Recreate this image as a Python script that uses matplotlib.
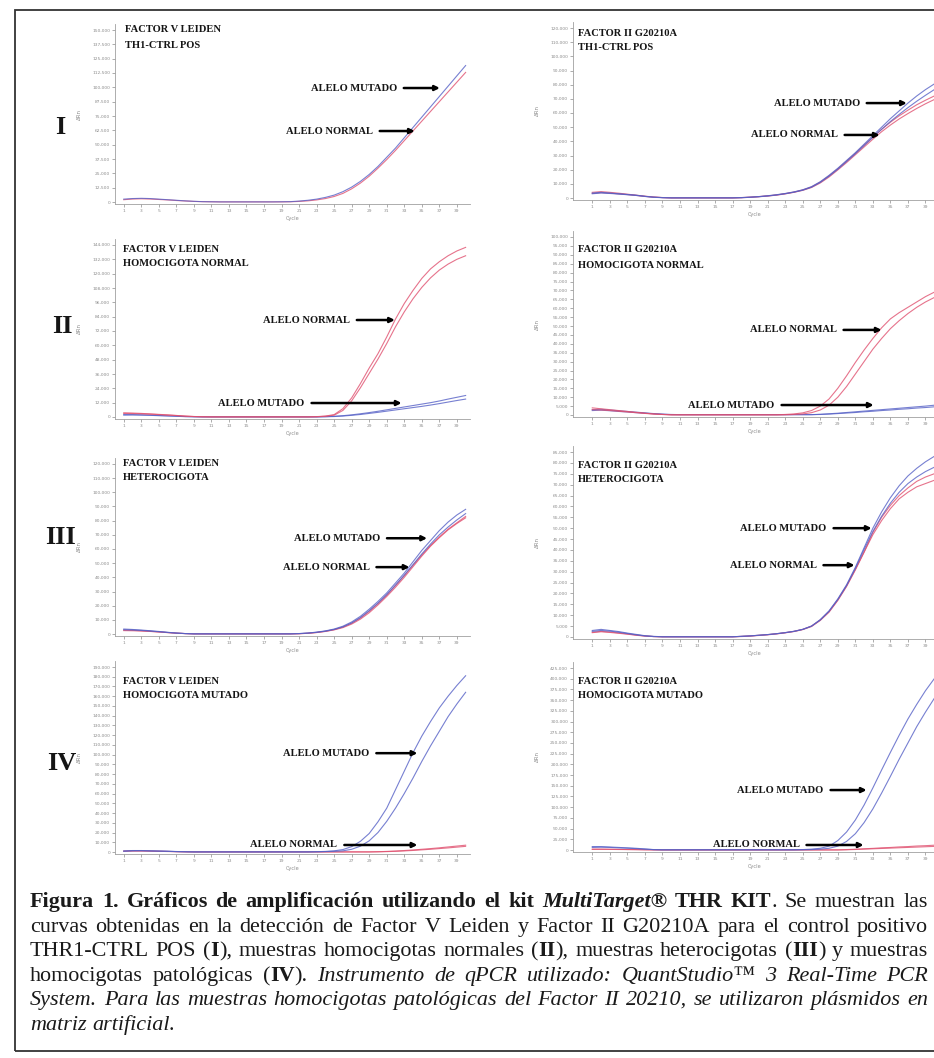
import matplotlib
matplotlib.use("Agg")
import matplotlib.pyplot as plt
from matplotlib.patches import Rectangle

# ---- datos: ΔRn (miles) por ciclo ----
cycles = list(range(1, 41))

# I - TH1-CTRL POS
fvl_ctrl_mut = [2.5, 3.0, 3.2, 3.0, 2.5, 2.0, 1.5, 1.0, 0.6, 0.3,
                0.2, 0.1, 0.1, 0.1, 0.1, 0.1, 0.1, 0.1, 0.2, 0.3,
                0.8, 1.5, 2.5, 4.0, 6.0, 9.0, 13.0, 18.0, 24.0, 31.0,
                39.0, 47.0, 56.0, 65.0, 74.0, 83.0, 92.0, 101.0, 110.0, 119.0]
fvl_ctrl_norm = [2.0, 2.6, 2.8, 2.6, 2.2, 1.8, 1.3, 0.9, 0.5, 0.3,
                 0.2, 0.1, 0.1, 0.1, 0.1, 0.1, 0.1, 0.1, 0.1, 0.2,
                 0.5, 1.0, 1.8, 3.0, 4.8, 7.5, 11.5, 16.5, 22.5, 29.5,
                 37.0, 45.0, 53.5, 62.0, 70.5, 79.0, 87.5, 96.0, 104.5, 113.0]
f2_ctrl_mut_a = [3.5, 4.0, 3.5, 3.0, 2.5, 2.0, 1.2, 0.6, 0.3, 0.1,
                 0.1, 0.1, 0.1, 0.1, 0.1, 0.1, 0.1, 0.3, 0.6, 1.0,
                 1.6, 2.3, 3.2, 4.3, 5.8, 8.0, 11.5, 16.0, 21.0, 26.5,
                 32.0, 38.0, 44.0, 50.0, 56.0, 61.5, 67.0, 72.0, 76.5, 80.5]
f2_ctrl_mut_b = [3.0, 3.5, 3.2, 2.8, 2.3, 1.8, 1.1, 0.5, 0.2, 0.1,
                 0.1, 0.1, 0.1, 0.1, 0.1, 0.1, 0.1, 0.2, 0.5, 0.9,
                 1.4, 2.1, 3.0, 4.1, 5.5, 7.6, 11.0, 15.4, 20.3, 25.7,
                 31.2, 37.0, 42.8, 48.5, 54.0, 59.0, 63.8, 68.3, 72.5, 76.5]
f2_ctrl_norm_a = [4.0, 4.5, 4.0, 3.4, 2.7, 2.0, 1.3, 0.7, 0.3, 0.1,
                  0.1, 0.1, 0.1, 0.1, 0.1, 0.1, 0.1, 0.3, 0.6, 1.0,
                  1.5, 2.2, 3.1, 4.2, 5.7, 7.8, 11.2, 15.6, 20.6, 26.0,
                  31.5, 37.3, 43.0, 48.5, 53.5, 58.0, 62.0, 65.8, 69.0, 72.0]
f2_ctrl_norm_b = [3.2, 3.8, 3.4, 2.9, 2.4, 1.8, 1.1, 0.6, 0.3, 0.1,
                  0.1, 0.1, 0.1, 0.1, 0.1, 0.1, 0.1, 0.2, 0.5, 0.9,
                  1.4, 2.0, 2.9, 4.0, 5.4, 7.4, 10.6, 14.8, 19.8, 25.0,
                  30.5, 36.0, 41.5, 46.8, 51.5, 55.8, 59.6, 63.2, 66.5, 69.5]

# II - homocigota normal
fvl_hn_norm_a = [3.5, 3.3, 3.0, 2.6, 2.2, 1.8, 1.3, 0.8, 0.4, 0.2,
                 0.1, 0.1, 0.1, 0.1, 0.1, 0.1, 0.1, 0.1, 0.1, 0.1,
                 0.1, 0.1, 0.3, 0.8, 2.0, 7.0, 16.0, 28.0, 41.0, 53.0,
                 67.0, 82.0, 95.0, 106.0, 116.0, 124.0, 130.0, 135.0, 139.0, 142.0]
fvl_hn_norm_b = [3.0, 2.9, 2.7, 2.4, 2.0, 1.6, 1.2, 0.7, 0.4, 0.2,
                 0.1, 0.1, 0.1, 0.1, 0.1, 0.1, 0.1, 0.1, 0.1, 0.1,
                 0.1, 0.1, 0.2, 0.6, 1.5, 5.5, 13.5, 24.5, 36.5, 48.5,
                 61.5, 75.5, 88.0, 99.0, 108.5, 116.5, 123.0, 128.0, 132.0, 135.0]
fvl_hn_mut_a = [2.0, 2.0, 1.8, 1.6, 1.3, 1.0, 0.7, 0.4, 0.2, 0.1,
                0.1, 0.1, 0.1, 0.1, 0.1, 0.1, 0.1, 0.1, 0.1, 0.1,
                0.1, 0.1, 0.1, 0.3, 0.6, 1.1, 1.8, 2.7, 3.7, 4.8,
                6.0, 7.2, 8.4, 9.6, 10.8, 12.0, 13.4, 15.0, 16.5, 18.0]
fvl_hn_mut_b = [1.6, 1.7, 1.6, 1.4, 1.1, 0.9, 0.6, 0.3, 0.2, 0.1,
                0.1, 0.1, 0.1, 0.1, 0.1, 0.1, 0.1, 0.1, 0.1, 0.1,
                0.1, 0.1, 0.1, 0.2, 0.4, 0.8, 1.4, 2.1, 3.0, 3.9,
                4.9, 5.9, 6.9, 7.9, 8.9, 10.0, 11.2, 12.5, 13.8, 15.0]
f2_hn_norm_a = [4.0, 3.5, 3.0, 2.5, 2.0, 1.5, 1.0, 0.6, 0.3, 0.1,
                0.1, 0.1, 0.1, 0.1, 0.1, 0.1, 0.1, 0.1, 0.1, 0.1,
                0.1, 0.1, 0.3, 0.6, 1.2, 2.5, 5.0, 9.0, 15.0, 22.0,
                29.5, 36.5, 43.0, 49.0, 54.0, 57.5, 60.5, 63.5, 66.5, 69.0]
f2_hn_norm_b = [3.0, 2.8, 2.5, 2.1, 1.7, 1.3, 0.9, 0.5, 0.3, 0.1,
                0.1, 0.1, 0.1, 0.1, 0.1, 0.1, 0.1, 0.1, 0.1, 0.1,
                0.1, 0.1, 0.1, 0.3, 0.6, 1.3, 2.8, 5.5, 10.0, 16.0,
                23.0, 30.0, 37.0, 43.0, 48.5, 53.0, 57.0, 60.5, 63.5, 66.0]
f2_hn_mut_a = [3.0, 3.2, 2.8, 2.4, 2.0, 1.6, 1.2, 0.8, 0.5, 0.3,
               0.2, 0.2, 0.2, 0.2, 0.2, 0.2, 0.2, 0.2, 0.2, 0.2,
               0.2, 0.2, 0.2, 0.2, 0.2, 0.2, 0.4, 0.7, 1.0, 1.4,
               1.8, 2.2, 2.6, 3.0, 3.4, 3.8, 4.2, 4.6, 5.0, 5.5]
f2_hn_mut_b = [2.5, 2.7, 2.4, 2.0, 1.7, 1.3, 1.0, 0.7, 0.4, 0.2,
               0.2, 0.2, 0.2, 0.2, 0.2, 0.2, 0.2, 0.2, 0.2, 0.2,
               0.2, 0.2, 0.2, 0.2, 0.2, 0.2, 0.3, 0.5, 0.8, 1.1,
               1.4, 1.8, 2.1, 2.5, 2.8, 3.2, 3.5, 3.9, 4.2, 4.6]

# III - heterocigota
fvl_het_mut_a = [3.5, 3.2, 2.8, 2.3, 1.8, 1.2, 0.7, 0.3, 0.1, 0.1,
                 0.1, 0.1, 0.1, 0.1, 0.1, 0.1, 0.1, 0.1, 0.1, 0.1,
                 0.3, 0.7, 1.3, 2.2, 3.5, 5.5, 8.5, 12.5, 17.5, 23.0,
                 29.0, 36.0, 43.0, 51.0, 59.0, 66.0, 73.0, 79.0, 84.0, 88.0]
fvl_het_mut_b = [3.0, 2.8, 2.5, 2.1, 1.6, 1.1, 0.6, 0.3, 0.1, 0.1,
                 0.1, 0.1, 0.1, 0.1, 0.1, 0.1, 0.1, 0.1, 0.1, 0.1,
                 0.3, 0.6, 1.2, 2.0, 3.2, 5.0, 7.8, 11.6, 16.4, 21.8,
                 27.8, 34.5, 41.5, 49.0, 56.5, 63.5, 70.0, 75.5, 80.5, 85.0]
fvl_het_norm_a = [2.8, 2.6, 2.3, 1.9, 1.5, 1.0, 0.6, 0.3, 0.1, 0.1,
                  0.1, 0.1, 0.1, 0.1, 0.1, 0.1, 0.1, 0.1, 0.1, 0.1,
                  0.2, 0.5, 1.0, 1.8, 2.9, 4.5, 7.0, 10.5, 15.0, 20.5,
                  26.5, 33.0, 40.0, 47.5, 55.0, 62.0, 68.0, 73.5, 78.0, 82.0]
fvl_het_norm_b = [2.4, 2.3, 2.1, 1.8, 1.4, 1.0, 0.6, 0.3, 0.1, 0.1,
                  0.1, 0.1, 0.1, 0.1, 0.1, 0.1, 0.1, 0.1, 0.1, 0.1,
                  0.2, 0.5, 1.1, 1.9, 3.1, 4.9, 7.6, 11.3, 16.0, 21.5,
                  27.5, 34.2, 41.2, 48.5, 55.8, 62.5, 68.5, 74.0, 78.5, 83.0]
f2_het_mut_a = [3.0, 3.5, 3.0, 2.5, 1.8, 1.2, 0.6, 0.3, 0.1, 0.1,
                0.1, 0.1, 0.1, 0.1, 0.1, 0.1, 0.1, 0.3, 0.5, 0.8,
                1.1, 1.5, 2.0, 2.6, 3.5, 5.0, 8.0, 12.0, 17.5, 24.0,
                32.0, 41.0, 50.0, 57.5, 64.0, 69.5, 74.0, 77.5, 80.5, 83.0]
f2_het_mut_b = [2.6, 3.0, 2.7, 2.2, 1.6, 1.0, 0.5, 0.2, 0.1, 0.1,
                0.1, 0.1, 0.1, 0.1, 0.1, 0.1, 0.1, 0.3, 0.5, 0.8,
                1.1, 1.5, 2.0, 2.6, 3.5, 5.0, 7.8, 11.8, 17.2, 23.6,
                31.5, 40.2, 48.5, 55.5, 61.5, 66.5, 70.5, 73.5, 76.0, 78.0]
f2_het_norm_a = [2.2, 2.6, 2.3, 1.9, 1.4, 0.9, 0.5, 0.2, 0.1, 0.1,
                 0.1, 0.1, 0.1, 0.1, 0.1, 0.1, 0.1, 0.3, 0.5, 0.8,
                 1.1, 1.5, 2.0, 2.6, 3.5, 5.0, 7.8, 11.6, 17.0, 23.5,
                 31.0, 39.0, 47.0, 53.5, 59.0, 63.5, 66.5, 69.0, 70.5, 72.0]
f2_het_norm_b = [2.0, 2.4, 2.1, 1.7, 1.3, 0.8, 0.4, 0.2, 0.1, 0.1,
                 0.1, 0.1, 0.1, 0.1, 0.1, 0.1, 0.1, 0.2, 0.4, 0.7,
                 1.0, 1.4, 1.9, 2.5, 3.4, 4.8, 7.6, 11.4, 16.8, 23.2,
                 30.8, 39.0, 48.0, 55.0, 60.5, 65.0, 68.5, 71.5, 73.5, 75.0]

# IV - homocigota mutado
fvl_hm_mut_a = [1.0, 1.5, 1.5, 1.2, 1.0, 0.8, 0.5, 0.3, 0.1, 0.1,
                0.1, 0.1, 0.1, 0.1, 0.1, 0.1, 0.1, 0.1, 0.1, 0.1,
                0.1, 0.1, 0.3, 0.6, 1.2, 2.5, 5.5, 11.0, 19.0, 31.0,
                45.0, 64.0, 83.0, 102.0, 119.0, 134.0, 148.0, 160.0, 171.0, 181.0]
fvl_hm_mut_b = [0.8, 1.2, 1.3, 1.1, 0.9, 0.7, 0.4, 0.2, 0.1, 0.1,
                0.1, 0.1, 0.1, 0.1, 0.1, 0.1, 0.1, 0.1, 0.1, 0.1,
                0.1, 0.1, 0.2, 0.4, 0.7, 1.2, 2.8, 6.0, 11.5, 20.0,
                31.5, 45.0, 60.0, 76.0, 93.0, 109.0, 124.0, 139.0, 152.0, 164.0]
fvl_hm_norm_a = [1.0, 1.2, 1.2, 1.0, 0.8, 0.6, 0.4, 0.2, 0.1, 0.1,
                 0.1, 0.1, 0.1, 0.1, 0.1, 0.1, 0.1, 0.1, 0.1, 0.1,
                 0.1, 0.1, 0.1, 0.1, 0.1, 0.1, 0.1, 0.1, 0.1, 0.3,
                 0.6, 1.0, 1.5, 2.1, 2.8, 3.5, 4.3, 5.2, 6.1, 7.0]
fvl_hm_norm_b = [0.8, 1.0, 1.0, 0.9, 0.7, 0.5, 0.3, 0.2, 0.1, 0.1,
                 0.1, 0.1, 0.1, 0.1, 0.1, 0.1, 0.1, 0.1, 0.1, 0.1,
                 0.1, 0.1, 0.1, 0.1, 0.1, 0.1, 0.1, 0.1, 0.1, 0.2,
                 0.4, 0.7, 1.1, 1.6, 2.2, 2.8, 3.5, 4.2, 5.0, 5.8]
f2_hm_mut_a = [8.0, 8.0, 7.0, 6.0, 5.0, 4.0, 2.5, 1.0, 0.5, 0.5,
               0.5, 0.5, 0.5, 0.5, 0.5, 0.5, 0.5, 0.5, 0.5, 0.5,
               0.5, 0.5, 0.5, 0.5, 1.0, 2.0, 4.0, 9.0, 22.0, 42.0,
               70.0, 105.0, 145.0, 187.0, 228.0, 268.0, 306.0, 340.0, 372.0, 400.0]
f2_hm_mut_b = [6.0, 6.5, 6.0, 5.0, 4.2, 3.2, 2.0, 0.8, 0.4, 0.4,
               0.4, 0.4, 0.4, 0.4, 0.4, 0.4, 0.4, 0.4, 0.4, 0.4,
               0.4, 0.4, 0.4, 0.4, 0.6, 1.0, 2.0, 4.0, 9.0, 20.0,
               38.0, 64.0, 96.0, 133.0, 172.0, 212.0, 250.0, 288.0, 322.0, 354.0]
f2_hm_norm_a = [2.0, 2.0, 1.8, 1.5, 1.2, 1.0, 0.6, 0.3, 0.2, 0.2,
                0.2, 0.2, 0.2, 0.2, 0.2, 0.2, 0.2, 0.2, 0.2, 0.2,
                0.2, 0.2, 0.2, 0.2, 0.2, 0.2, 0.2, 0.2, 0.2, 1.0,
                1.8, 2.9, 3.8, 5.1, 5.9, 7.2, 8.0, 9.3, 10.1, 11.2]
f2_hm_norm_b = [1.5, 1.6, 1.4, 1.2, 1.0, 0.8, 0.5, 0.3, 0.2, 0.2,
                0.2, 0.2, 0.2, 0.2, 0.2, 0.2, 0.2, 0.2, 0.2, 0.2,
                0.2, 0.2, 0.2, 0.2, 0.2, 0.2, 0.2, 0.2, 0.2, 0.5,
                1.2, 2.0, 2.8, 3.6, 4.4, 5.2, 6.0, 6.8, 7.6, 8.4]

# flechas: (texto, ciclo, ΔRn en miles, largo de la flecha en px)
notes_fvl_ctrl = [("ALELO MUTADO", 37.06, 99.4, 43), ("ALELO NORMAL", 34.2, 61.9, 42)]
notes_f2_ctrl = [("ALELO MUTADO", 36.87, 67.0, 47), ("ALELO NORMAL", 33.78, 44.5, 42)]
notes_fvl_hn = [("ALELO NORMAL", 31.93, 81.2, 45), ("ALELO MUTADO", 32.7, 11.7, 97)]
notes_f2_hn = [("ALELO NORMAL", 34.0, 47.8, 45), ("ALELO MUTADO", 33.09, 5.6, 99)]
notes_fvl_het = [("ALELO MUTADO", 35.6, 67.6, 47), ("ALELO NORMAL", 33.6, 47.2, 40)]
notes_f2_het = [("ALELO MUTADO", 32.86, 50.0, 45), ("ALELO NORMAL", 30.91, 33.0, 38)]
notes_fvl_hm = [("ALELO MUTADO", 34.5, 101.5, 48), ("ALELO NORMAL", 34.5, 7.2, 80)]
notes_f2_hm = [("ALELO MUTADO", 32.29, 140.0, 43), ("ALELO NORMAL", 31.94, 11.7, 64)]

caption_lines = [
    [("Figura 1. Gráficos de amplificación utilizando el kit ", "b"), ("MultiTarget®", "bi"),
     (" THR KIT", "b"), (". Se muestran las", "r")],
    [("curvas obtenidas en la detección de Factor V Leiden y Factor II G20210A para el control positivo", "r")],
    [("THR1-CTRL POS (", "r"), ("I", "b"), ("), muestras homocigotas normales (", "r"), ("II", "b"),
     ("), muestras heterocigotas (", "r"), ("III", "b"), (") y muestras", "r")],
    [("homocigotas patológicas (", "r"), ("IV", "b"), (").", "r"),
     (" Instrumento de qPCR utilizado: QuantStudio™ 3 Real-Time PCR", "i")],
    [("System. Para las muestras homocigotas patológicas del Factor II 20210, se utilizaron plásmidos en", "i")],
    [("matriz artificial.", "i")],
]

# ---- figura ----
W, H = 934, 1058
fig = plt.figure(figsize=(W / 100, H / 100), dpi=100)
SERIF = ["Liberation Serif", "DejaVu Serif"]
RED = "#e0506f"
BLUE = "#5560c6"
GREY = "#8c8c8c"


def fx(x):
    return x / W


def fy(y):
    return 1 - y / H


fig.add_artist(Rectangle((fx(15), fy(1051)), (950 - 15) / W, (1051 - 10) / H,
                         transform=fig.transFigure, fill=False, lw=1.3, ec="#333333"))


def panel(col, zero, top, nt, step, curves, notes, title, tx, ty):
    left, right = (115, 470) if col == "L" else (573, 936)
    xlim = (0, 40.5) if col == "L" else (-1.2, 40.2)
    ppu = (zero - top) / ((nt - 1) * step)
    b_px, t_px = zero + 2, top - 6
    ax = fig.add_axes([fx(left), fy(b_px), (right - left) / W, (b_px - t_px) / H])
    ax.patch.set_alpha(0)
    ax.set_xlim(*xlim)
    ax.set_ylim(-2 / ppu, (nt - 1) * step + 6 / ppu)
    for vals, color in curves:
        ax.plot(cycles, vals, color=color, lw=0.8, alpha=0.8)
    yt = [i * step for i in range(nt)]
    ax.set_yticks(yt)
    ax.set_yticklabels([f"{v * 1000:,.0f}" for v in yt])
    ax.set_xticks(list(range(1, 40, 2)))
    ax.tick_params(labelsize=3.2, colors=GREY, length=2, width=0.5, pad=1.5)
    for s in ("top", "right"):
        ax.spines[s].set_visible(False)
    for s in ("left", "bottom"):
        ax.spines[s].set_color("#a0a0a0")
        ax.spines[s].set_linewidth(0.6)
    ax.set_xlabel("Cycle", fontsize=3.6, color=GREY, labelpad=2)
    ax.set_ylabel("ΔRn", fontsize=4, color=GREY)
    ax.yaxis.set_label_coords(-33 / (right - left), 0.5)
    for label, c, v, length in notes:
        ax.annotate(label, xy=(c, v), xytext=(-length, 0), textcoords="offset pixels",
                    ha="right", va="center", fontsize=7.6, fontweight="bold",
                    family=SERIF, color="#151515",
                    arrowprops=dict(arrowstyle="-|>", color="black", lw=1.8,
                                    mutation_scale=7, shrinkA=3, shrinkB=0))
    for i, line in enumerate(title):
        fig.text(fx(tx), fy(ty + 15 * i), line, fontsize=7.6, fontweight="bold",
                 family=SERIF, va="center", color="#151515")
    return ax


panel("L", 202, 30, 13, 12.5, [(fvl_ctrl_norm, RED), (fvl_ctrl_mut, BLUE)],
      notes_fvl_ctrl, ["FACTOR V LEIDEN", "TH1-CTRL POS"], 125, 30)
panel("R", 198, 28, 13, 10, [(f2_ctrl_norm_a, RED), (f2_ctrl_norm_b, RED),
                             (f2_ctrl_mut_a, BLUE), (f2_ctrl_mut_b, BLUE)],
      notes_f2_ctrl, ["FACTOR II G20210A", "TH1-CTRL POS"], 578, 33)
panel("L", 417, 245, 13, 12, [(fvl_hn_mut_a, BLUE), (fvl_hn_mut_b, BLUE),
                              (fvl_hn_norm_a, RED), (fvl_hn_norm_b, RED)],
      notes_fvl_hn, ["FACTOR V LEIDEN", "HOMOCIGOTA NORMAL"], 123, 249)
panel("R", 415, 237, 21, 5, [(f2_hn_mut_a, BLUE), (f2_hn_mut_b, BLUE),
                             (f2_hn_norm_a, RED), (f2_hn_norm_b, RED)],
      notes_f2_hn, ["FACTOR II G20210A", "HOMOCIGOTA NORMAL"], 578, 250)
panel("L", 634, 464, 13, 10, [(fvl_het_norm_a, RED), (fvl_het_norm_b, RED),
                              (fvl_het_mut_a, BLUE), (fvl_het_mut_b, BLUE)],
      notes_fvl_het, ["FACTOR V LEIDEN", "HETEROCIGOTA"], 123, 463)
panel("R", 637, 452, 18, 5, [(f2_het_norm_a, RED), (f2_het_norm_b, RED),
                             (f2_het_mut_a, BLUE), (f2_het_mut_b, BLUE)],
      notes_f2_het, ["FACTOR II G20210A", "HETEROCIGOTA"], 578, 465)
panel("L", 852, 667, 20, 10, [(fvl_hm_norm_a, RED), (fvl_hm_norm_b, RED),
                              (fvl_hm_mut_a, BLUE), (fvl_hm_mut_b, BLUE)],
      notes_fvl_hm, ["FACTOR V LEIDEN", "HOMOCIGOTA MUTADO"], 123, 681)
panel("R", 850, 668, 18, 25, [(f2_hm_norm_a, RED), (f2_hm_norm_b, RED),
                              (f2_hm_mut_a, BLUE), (f2_hm_mut_b, BLUE)],
      notes_f2_hm, ["FACTOR II G20210A", "HOMOCIGOTA MUTADO"], 578, 681)

# números romanos
for txt, x, y in [("I", 60, 128), ("II", 62, 326), ("III", 60, 538), ("IV", 62, 764)]:
    fig.text(fx(x), fy(y), txt, fontsize=19, fontweight="bold", family=SERIF,
             ha="center", va="center", color="#151515")

# ---- leyenda (justificada) ----
STYLES = {"r": dict(fontweight="normal", fontstyle="normal"),
          "b": dict(fontweight="bold", fontstyle="normal"),
          "i": dict(fontweight="normal", fontstyle="italic"),
          "bi": dict(fontweight="bold", fontstyle="italic")}
renderer = fig.canvas.get_renderer()


def words_of(segs):
    words = [[]]
    for text, st in segs:
        for i, piece in enumerate(text.split(" ")):
            if i > 0:
                words.append([])
            if piece:
                words[-1].append((piece, st))
    return [w for w in words if w]


def width_of(text, st, size):
    t = fig.text(0, 0, text, fontsize=size, family=SERIF, **STYLES[st])
    w = t.get_window_extent(renderer).width
    t.remove()
    return w


X0, X1 = 30, 928
BASE = 12
space_base = width_of("n n", "r", BASE) - width_of("nn", "r", BASE)
line_words = [words_of(l) for l in caption_lines]
naturals = []
for ws in line_words[:-1]:
    tot = sum(width_of(p, st, BASE) for w in ws for p, st in w)
    naturals.append(tot + (len(ws) - 1) * space_base)
fs = BASE * min((X1 - X0) / n for n in naturals) * 0.985
space = space_base * fs / BASE

baselines = [907, 932, 956, 981, 1005, 1030]
for k, ws in enumerate(line_words):
    widths = [[width_of(p, st, fs) for p, st in w] for w in ws]
    total = sum(sum(w) for w in widths)
    if k < len(line_words) - 1:
        gap = (X1 - X0 - total) / (len(ws) - 1)
    else:
        gap = space
    x = X0
    for w, ww in zip(ws, widths):
        for (p, st), pw in zip(w, ww):
            fig.text(fx(x), fy(baselines[k]), p, fontsize=fs, family=SERIF,
                     va="baseline", color="#1a1a1a", **STYLES[st])
            x += pw
        x += gap

fig.savefig("out.png", dpi=100)
